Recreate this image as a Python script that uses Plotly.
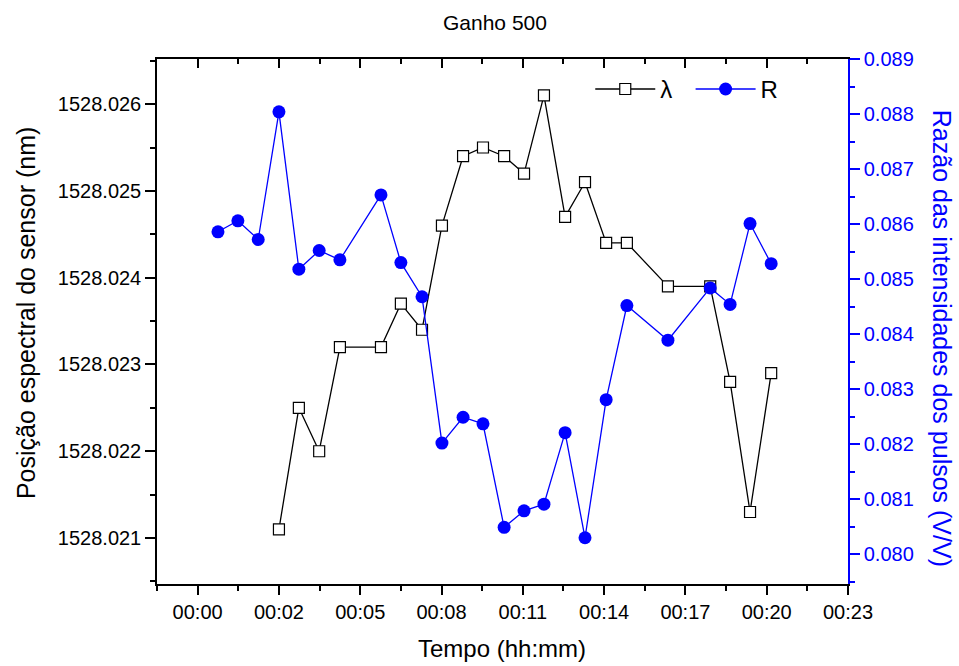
import plotly.graph_objects as go

# Elapsed time (fraction of a day) for each acquisition
t_R = [0.00050, 0.00099, 0.00149, 0.00200, 0.00249, 0.00299, 0.00350, 0.00451,
       0.00500, 0.00552, 0.00601, 0.00653, 0.00702, 0.00754, 0.00803, 0.00852,
       0.00904, 0.00953, 0.01005, 0.01056, 0.01157, 0.01261, 0.01310, 0.01359,
       0.01411]
R_vals = [0.08586, 0.08606, 0.08572, 0.08804, 0.08518, 0.08552, 0.08535, 0.08653,
          0.08530, 0.08468, 0.08202, 0.08249, 0.08237, 0.08049, 0.08079, 0.08091,
          0.08221, 0.08030, 0.08281, 0.08452, 0.08389, 0.08484, 0.08454, 0.08601,
          0.08528]

t_lambda = [0.00200, 0.00249, 0.00299, 0.00350, 0.00451, 0.00500, 0.00552, 0.00601,
            0.00653, 0.00702, 0.00754, 0.00803, 0.00852, 0.00904, 0.00953, 0.01005,
            0.01056, 0.01157, 0.01261, 0.01310, 0.01359, 0.01411]
lambda_vals = [1528.0211, 1528.0225, 1528.0220, 1528.0232, 1528.0232, 1528.0237,
               1528.0234, 1528.0246, 1528.0254, 1528.0255, 1528.0254, 1528.0252,
               1528.0261, 1528.0247, 1528.0251, 1528.0244, 1528.0244, 1528.0239,
               1528.0239, 1528.0228, 1528.0213, 1528.0229]

x_tickvals = [0.000, 0.002, 0.004, 0.006, 0.008, 0.010, 0.012, 0.014, 0.016]
x_ticktext = ["00:00", "00:02", "00:05", "00:08", "00:11", "00:14", "00:17", "00:20", "00:23"]
x_minor = [-0.001, 0.001, 0.003, 0.005, 0.007, 0.009, 0.011, 0.013, 0.015]

FONT = "Liberation Sans, Arial, sans-serif"
BLUE = "#0000FF"
NBSP = "\u00a0"

fig = go.Figure()

fig.add_trace(go.Scatter(
    x=t_lambda, y=lambda_vals, name="λ" + NBSP * 2, mode="lines+markers",
    line=dict(color="black", width=1.3),
    marker=dict(symbol="square", size=11, color="white",
                line=dict(color="black", width=1.2)),
    xaxis="x", yaxis="y",
))
fig.add_trace(go.Scatter(
    x=t_R, y=R_vals, name="R", mode="lines+markers",
    line=dict(color=BLUE, width=1.3),
    marker=dict(symbol="circle", size=13, color=BLUE),
    xaxis="x", yaxis="y2",
))
# empty trace so the top frame axis gets drawn
fig.add_trace(go.Scatter(x=[], y=[], xaxis="x2", yaxis="y", showlegend=False,
                         hoverinfo="skip"))

x_range = [-0.001, 0.016]

fig.update_layout(
    width=959, height=666,
    margin=dict(l=157, r=111, t=59, b=82),
    paper_bgcolor="white", plot_bgcolor="white",
    font=dict(family=FONT, color="black", size=20),
    showlegend=True,
    legend=dict(orientation="h", x=0.627, y=0.985, xanchor="left", yanchor="top",
                bgcolor="rgba(0,0,0,0)", font=dict(size=24), itemwidth=60,
                tracegroupgap=0),
    xaxis=dict(
        range=x_range, tickmode="array", tickvals=x_tickvals, ticktext=x_ticktext,
        ticks="outside", ticklen=9, tickwidth=1.5, tickcolor="black",
        showline=True, linecolor="black", linewidth=1.5,
        showgrid=False, zeroline=False, tickfont=dict(size=20),
        minor=dict(tickmode="array", tickvals=x_minor, ticks="outside", ticklen=5,
                   tickwidth=1.5, tickcolor="black", showgrid=False),
    ),
    xaxis2=dict(
        range=x_range, overlaying="x", side="top", anchor="y",
        tickmode="array", tickvals=x_tickvals, ticks="inside", ticklen=9,
        tickwidth=1.5, tickcolor="black", showticklabels=False,
        showline=True, linecolor="black", linewidth=1.5,
        showgrid=False, zeroline=False,
        minor=dict(tickmode="array", tickvals=x_minor, ticks="inside", ticklen=5,
                   tickwidth=1.5, tickcolor="black", showgrid=False),
    ),
    yaxis=dict(
        range=[1528.02047, 1528.02652], tick0=1528.021, dtick=0.001,
        tickformat=".3f", ticks="outside", ticklen=10, tickwidth=1.5,
        tickcolor="black", showline=True, linecolor="black", linewidth=1.5,
        showgrid=False, zeroline=False, tickfont=dict(size=20),
        minor=dict(tick0=1528.0205, dtick=0.001, ticks="outside", ticklen=5,
                   tickwidth=1.5, tickcolor="black", showgrid=False),
    ),
    yaxis2=dict(
        range=[0.07946, 0.089], tick0=0.080, dtick=0.001, tickformat=".3f",
        overlaying="y", side="right", anchor="x",
        ticks="outside", ticklen=10, tickwidth=1.5, tickcolor=BLUE,
        showline=True, linecolor=BLUE, linewidth=1.5,
        showgrid=False, zeroline=False, tickfont=dict(size=20, color=BLUE),
        minor=dict(tick0=0.0805, dtick=0.001, ticks="outside", ticklen=5,
                   tickwidth=1.5, tickcolor=BLUE, showgrid=False),
    ),
    annotations=[
        dict(text="Ganho 500", xref="paper", yref="paper", x=0.489, y=1.0,
             yshift=37, showarrow=False, font=dict(size=21), xanchor="center",
             yanchor="middle"),
        dict(text="Tempo (hh:mm)", xref="paper", yref="paper", x=0.4995, y=0,
             yshift=-64, showarrow=False, font=dict(size=24), xanchor="center",
             yanchor="middle"),
        dict(text="Posição espectral do sensor (nm)", xref="paper", yref="paper",
             x=0, y=0.516, xshift=-131, showarrow=False, font=dict(size=25),
             textangle=-90, xanchor="center", yanchor="middle"),
        dict(text="Razão das intensidades dos pulsos (V/V)", xref="paper",
             yref="paper", x=1, y=0.469, xshift=94, showarrow=False,
             font=dict(size=25, color=BLUE), textangle=90, xanchor="center",
             yanchor="middle"),
    ],
)

fig.write_html("out.html")
